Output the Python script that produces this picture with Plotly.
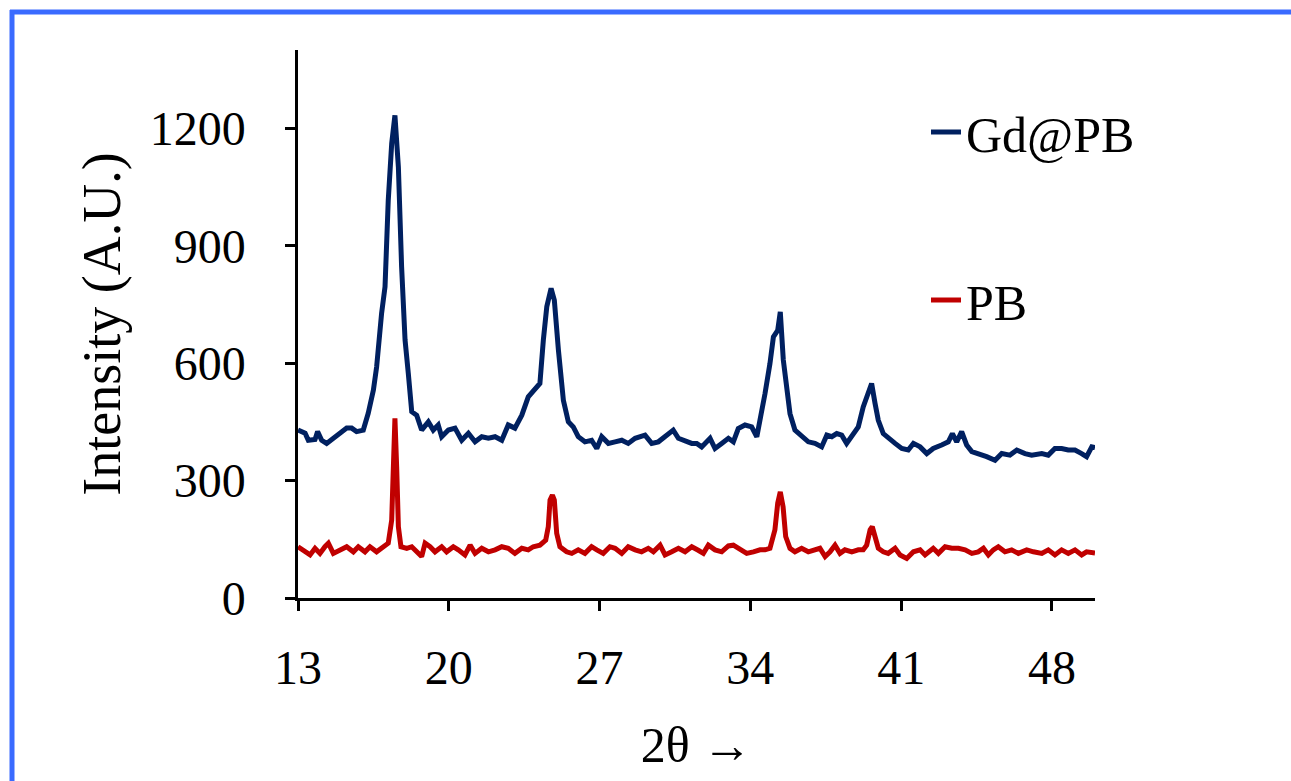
import plotly.graph_objects as go

# ---------------- data ----------------
gd_x = [13.0, 13.33, 13.48, 13.79, 13.91, 14.10, 14.33, 14.56, 14.87, 15.26, 15.49, 15.72, 16.03,
        16.26, 16.50, 16.65, 16.88, 17.04, 17.19, 17.35, 17.50, 17.66, 17.81, 17.97, 18.12, 18.28,
        18.51, 18.74, 19.05, 19.28, 19.51, 19.67, 19.98, 20.29, 20.60, 20.91, 21.22, 21.53, 21.84,
        22.15, 22.46, 22.76, 23.07, 23.39, 23.69, 24.00, 24.23, 24.39, 24.55, 24.75, 24.90, 25.09,
        25.32, 25.55, 25.78, 26.01, 26.32, 26.63, 26.87, 27.10, 27.41, 27.72, 28.03, 28.33, 28.65,
        29.11, 29.42, 29.73, 30.04, 30.42, 30.66, 30.97, 31.28, 31.51, 31.74, 32.13, 32.36, 32.67,
        32.98, 33.21, 33.44, 33.75, 34.06, 34.30, 34.45, 34.68, 34.91, 35.07, 35.27, 35.39, 35.53,
        35.69, 35.84, 36.07, 36.38, 36.69, 37.00, 37.31, 37.55, 37.78, 38.01, 38.24, 38.47, 38.71,
        39.01, 39.24, 39.45, 39.63, 39.79, 39.94, 40.17, 40.40, 40.72, 41.03, 41.33, 41.57, 41.88,
        42.19, 42.49, 42.88, 43.19, 43.38, 43.58, 43.81, 44.04, 44.28, 44.58, 44.97, 45.36, 45.67,
        46.05, 46.37, 46.75, 47.06, 47.53, 47.83, 48.14, 48.45, 48.76, 49.07, 49.38, 49.61, 49.85,
        50.0]
gd_y = [429, 421, 403, 405, 425, 403, 395, 405, 416, 434, 434, 425, 429,
        472, 531, 590, 727, 795, 1016, 1161, 1233, 1101, 846, 659, 574, 476,
        467, 429, 450, 429, 442, 412, 429, 434, 403, 421, 399, 412, 408,
        412, 403, 442, 434, 467, 514, 531, 548, 659, 744, 791, 761, 633,
        505, 450, 437, 412, 399, 403, 382, 412, 395, 399, 403, 395, 408,
        416, 395, 399, 412, 429, 408, 403, 395, 395, 386, 408, 382, 395,
        408, 399, 433, 442, 437, 412, 450, 522, 599, 667, 684, 731, 608,
        522, 471, 429, 412, 399, 395, 386, 416, 412, 420, 416, 395, 412,
        437, 488, 522, 548, 497, 454, 420, 408, 395, 382, 378, 395, 386,
        369, 382, 391, 399, 420, 399, 425, 391, 374, 369, 361, 352, 369,
        365, 378, 369, 365, 369, 365, 382, 382, 378, 378, 369, 361, 386,
        384]

pb_x = [13.0, 13.33, 13.56, 13.79, 14.02, 14.25, 14.41, 14.64, 14.95, 15.26, 15.57, 15.80, 16.11,
        16.34, 16.65, 16.96, 17.19, 17.35, 17.44, 17.50, 17.58, 17.66, 17.78, 18.05, 18.28, 18.51,
        18.74, 18.90, 19.13, 19.36, 19.67, 19.90, 20.21, 20.44, 20.75, 20.99, 21.22, 21.53, 21.84,
        22.15, 22.46, 22.76, 23.07, 23.39, 23.69, 23.92, 24.23, 24.50, 24.62, 24.70, 24.81, 24.90,
        25.01, 25.16, 25.47, 25.71, 26.01, 26.32, 26.63, 26.87, 27.17, 27.48, 27.72, 28.03, 28.33,
        28.65, 28.95, 29.26, 29.50, 29.81, 30.04, 30.35, 30.66, 30.97, 31.28, 31.58, 31.82, 32.05,
        32.36, 32.67, 32.98, 33.21, 33.52, 33.83, 34.14, 34.45, 34.68, 34.91, 35.14, 35.27, 35.39,
        35.52, 35.64, 35.84, 36.07, 36.38, 36.69, 37.00, 37.23, 37.47, 37.70, 37.93, 38.16, 38.39,
        38.71, 39.01, 39.24, 39.40, 39.56, 39.66, 39.79, 39.94, 40.17, 40.40, 40.72, 40.95, 41.26,
        41.57, 41.88, 42.11, 42.49, 42.73, 43.04, 43.35, 43.66, 43.97, 44.28, 44.58, 44.82, 45.05,
        45.28, 45.51, 45.82, 46.13, 46.44, 46.83, 47.14, 47.53, 47.83, 48.14, 48.45, 48.76, 49.07,
        49.38, 49.61, 49.85, 50.0]
pb_y = [131, 118, 110, 127, 114, 131, 140, 114, 123, 131, 118, 131, 118,
        131, 118, 131, 140, 199, 335, 459, 335, 182, 131, 127, 131, 118,
        106, 140, 131, 118, 131, 118, 131, 123, 110, 135, 114, 127, 118,
        123, 131, 127, 114, 127, 123, 131, 135, 148, 182, 250, 263, 250,
        165, 131, 118, 114, 123, 114, 131, 123, 114, 131, 127, 114, 131,
        123, 118, 127, 118, 135, 110, 118, 127, 118, 131, 122, 114, 135,
        123, 118, 133, 135, 123, 114, 118, 123, 123, 127, 174, 242, 271,
        233, 157, 127, 118, 127, 118, 123, 127, 106, 118, 135, 114, 123,
        118, 123, 123, 135, 174, 182, 161, 127, 118, 114, 127, 110, 101,
        118, 123, 110, 127, 114, 131, 127, 127, 123, 114, 118, 127, 110,
        123, 131, 118, 123, 114, 123, 118, 114, 123, 110, 123, 114, 123,
        110, 118, 118, 115]

x_ticks = [13, 20, 27, 34, 41, 48]
y_ticks = [0, 300, 600, 900, 1200]

FONT = "Liberation Serif"

fig = go.Figure()
fig.add_trace(go.Scatter(x=gd_x, y=gd_y, mode="lines", name="Gd@PB",
                         legendgroup="a",
                         line=dict(color="#002060", width=5)))
fig.add_trace(go.Scatter(x=pb_x, y=pb_y, mode="lines", name="PB",
                         legendgroup="b",
                         line=dict(color="#C00000", width=5)))

axis_common = dict(showline=True, linecolor="black", linewidth=2.5,
                   ticks="outside", ticklen=10, tickwidth=2.5, tickcolor="black",
                   showgrid=False, zeroline=False,
                   tickfont=dict(family=FONT, size=48, color="black"))

fig.update_xaxes(range=[13, 50], tickvals=x_ticks, ticklabelstandoff=16,
                 title=dict(text="2θ →", font=dict(family=FONT, size=50, color="black"),
                            standoff=34),
                 **axis_common)
fig.update_yaxes(range=[0, 1400], tickvals=y_ticks, ticklabelstandoff=30,
                 title=dict(text="Intensity (A.U.)", font=dict(family=FONT, size=54, color="black"),
                            standoff=12),
                 **axis_common)

# outer blue frame (top and left edges)
def px_to_paper_x(px):
    return (px - 298) / 797

def py_to_paper_y(py):
    return (598 - py) / 548

fig.add_shape(type="line", xref="paper", yref="paper",
              x0=px_to_paper_x(12), x1=px_to_paper_x(12),
              y0=py_to_paper_y(800), y1=py_to_paper_y(10),
              line=dict(color="#3A6BFF", width=5))
fig.add_shape(type="line", xref="paper", yref="paper",
              x0=px_to_paper_x(10), x1=px_to_paper_x(1320),
              y0=py_to_paper_y(12), y1=py_to_paper_y(12),
              line=dict(color="#3A6BFF", width=5))

fig.update_layout(
    width=1291, height=781,
    margin=dict(l=298, r=196, t=50, b=183),
    paper_bgcolor="white", plot_bgcolor="white",
    showlegend=True,
    legend=dict(x=px_to_paper_x(926), y=py_to_paper_y(93), xanchor="left", yanchor="top",
                font=dict(family=FONT, size=50, color="black"),
                bgcolor="rgba(0,0,0,0)", tracegroupgap=100, traceorder="grouped",
                itemwidth=30),
)

fig.write_html("out.html")
